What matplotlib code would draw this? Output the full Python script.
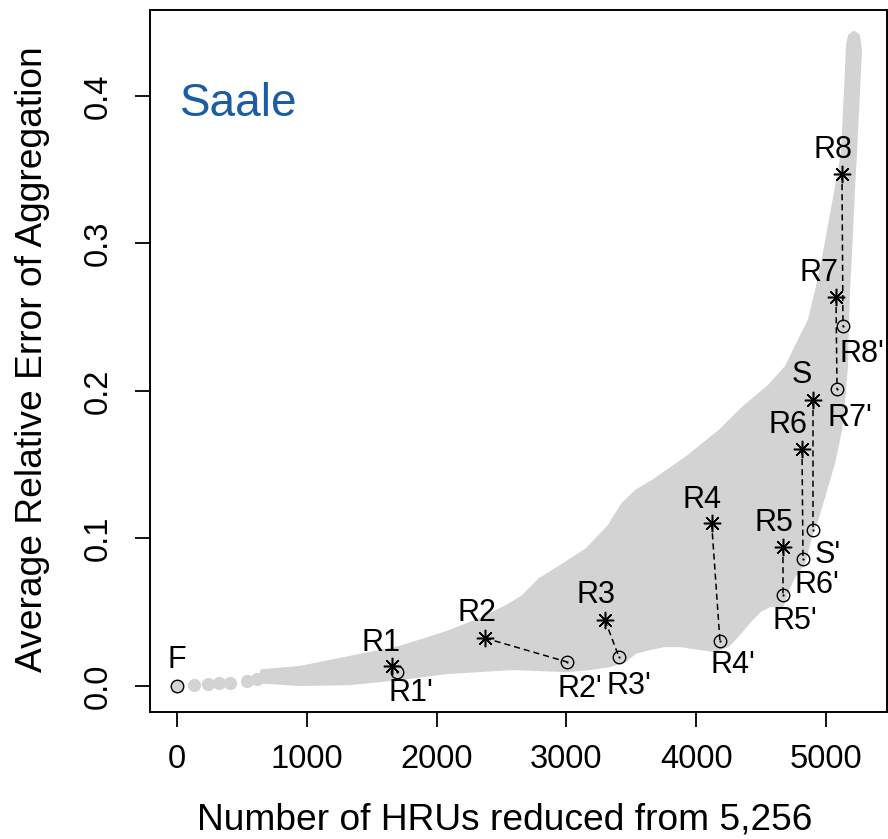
import matplotlib
matplotlib.use("Agg")
import matplotlib.pyplot as plt
from matplotlib.patches import Polygon
import numpy as np

plt.rcParams['font.family'] = ['Liberation Sans', 'DejaVu Sans']

# ---- data ----
# individual scenario dots along the low-reduction tail
tail_x = [0, 131, 239, 324, 408, 539, 616, 700]
tail_y = [0.0, 0.0007, 0.0014, 0.0020, 0.0020, 0.0034, 0.0047, 0.0060]

# outline of the dense cloud of all aggregation scenarios
# upper / left edge (from tail to the top)
cloud_upper_x = [655, 948, 1333, 1718, 2080, 2334, 2542, 2666, 2797, 3005, 3159, 3330, 3436,
                 3544, 3667, 3929, 4183, 4361, 4569, 4699, 4800, 4877, 4938, 4992, 5085,
                 5131, 5162, 5170, 5185, 5216, 5246]
cloud_upper_y = [0.0100, 0.0122, 0.0190, 0.0258, 0.0359, 0.0447, 0.0536, 0.0603, 0.0719, 0.0834,
                 0.0922, 0.1080, 0.1230, 0.1320, 0.1385, 0.1545, 0.1725, 0.1880, 0.2035,
                 0.2163, 0.2346, 0.2481, 0.2705, 0.2936, 0.3383, 0.3614, 0.4176, 0.4346,
                 0.4407, 0.4427, 0.4407]
# right / lower edge (from the top back to the tail)
cloud_lower_x = [5262, 5254, 5223, 5208, 5185, 5170, 5162, 5154, 5131, 5108, 5054, 4977,
                 4931, 4877, 4823, 4746, 4699, 4661, 4569, 4491, 4414, 4337, 4245, 4145,
                 4029, 3875, 3760, 3644, 3528, 3451, 3336, 3182, 3005, 2589, 2080, 1718,
                 1333, 948, 655]
cloud_lower_y = [0.4312, 0.4176, 0.3614, 0.3383, 0.2936, 0.2705, 0.2481, 0.2176, 0.1939,
                 0.1736, 0.1512, 0.1281, 0.1146, 0.1010, 0.0834, 0.0739, 0.0651, 0.0549,
                 0.0549, 0.0515, 0.0447, 0.0366, 0.0278, 0.0244, 0.0258, 0.0278, 0.0278,
                 0.0258, 0.0231, 0.0176, 0.0142, 0.0122, 0.0108, 0.0122, 0.0095, 0.0054,
                 0.0020, 0.0014, 0.0030]

# selected scenarios (stars) and their counterparts (circles)
names = ['R1', 'R2', 'R3', 'R4', 'R5', 'R6', 'S', 'R7', 'R8']
sel_x = [1659, 2373, 3297, 4119, 4669, 4815, 4900, 5077, 5123]
sel_y = [0.0138, 0.0325, 0.0447, 0.1103, 0.0942, 0.1607, 0.1939, 0.2637, 0.3471]
prime_names = ["R1'", "R2'", "R3'", "R4'", "R5'", "R6'", "S'", "R7'", "R8'"]
prime_x = [1697, 3005, 3405, 4183, 4669, 4823, 4900, 5085, 5131]
prime_y = [0.0097, 0.0163, 0.0197, 0.0305, 0.0617, 0.0861, 0.1058, 0.2014, 0.2441]
full_x = [0]
full_y = [0.0]

x_ticks = [0, 1000, 2000, 3000, 4000, 5000]
y_ticks = [0.0, 0.1, 0.2, 0.3, 0.4]

# ---- layout (label offsets in pixels) ----
sel_off = [(-11, 23), (-8, 25), (-9, 25), (-10, 23), (-9, 24), (-14, 24), (-11, 25), (-17, 24), (-9, 24)]
prime_off = [(14, -21), (13, -27), (10, -29), (13, -24), (12, -26), (14, -26), (15, -25), (13, -29), (19, -28)]

gray = '#d3d3d3'
W, H = 888, 839
fig = plt.figure(figsize=(W / 100, H / 100), dpi=100)
ax = fig.add_axes([150 / W, 1 - 712 / H, (887 - 150) / W, (712 - 10) / H])

# cloud
poly_x = cloud_upper_x + cloud_lower_x
poly_y = cloud_upper_y + cloud_lower_y
ax.add_patch(Polygon(np.column_stack([poly_x, poly_y]), closed=True,
                     facecolor=gray, edgecolor=gray, linewidth=3, joinstyle='round', zorder=1))
ax.plot(tail_x, tail_y, 'o', color=gray, markersize=9.5, markeredgewidth=0, zorder=1)

# dashed connectors
for sx, sy, px, py in zip(sel_x, sel_y, prime_x, prime_y):
    ax.plot([sx, px], [sy, py], color='black', linestyle=(0, (4, 2.6)), linewidth=1.1, zorder=2)

ax.plot(sel_x, sel_y, linestyle='none', marker=(8, 2, 0), markersize=12.5,
        markeredgewidth=1.1, color='black', zorder=3)
ax.plot(prime_x, prime_y, linestyle='none', marker='o', markersize=9,
        markerfacecolor='none', markeredgecolor='black', markeredgewidth=1.0, zorder=3)
ax.plot(prime_x, prime_y, linestyle='none', marker='o', markersize=1.6,
        color='black', markeredgewidth=0, zorder=3)
ax.plot(full_x, full_y, linestyle='none', marker='o', markersize=9,
        markerfacecolor=gray, markeredgecolor='black', markeredgewidth=1.0, zorder=3)

lab_fs = 22
for n, x, y, off in zip(names, sel_x, sel_y, sel_off):
    ax.annotate(n, (x, y), xytext=off, textcoords='offset pixels',
                ha='center', va='center', fontsize=lab_fs, zorder=4)
for n, x, y, off in zip(prime_names, prime_x, prime_y, prime_off):
    ax.annotate(n, (x, y), xytext=off, textcoords='offset pixels',
                ha='center', va='center', fontsize=lab_fs, zorder=4)
ax.annotate('F', (full_x[0], full_y[0]), xytext=(0, 26), textcoords='offset pixels',
            ha='center', va='center', fontsize=lab_fs, zorder=4)

ax.set_xlim(-208, 5470)
ax.set_ylim(-0.01763, 0.4583)
ax.set_xticks(x_ticks)
ax.set_xticklabels([str(t) for t in x_ticks])
ax.set_yticks(y_ticks)
ax.set_yticklabels([f'{t:.1f}' for t in y_ticks])
ax.tick_params(axis='both', direction='out', length=11, width=1.3, labelsize=23.5, pad=12)
ax.tick_params(axis='y', labelrotation=90, pad=15)
for lab in ax.get_yticklabels():
    lab.set_va('center')
for s in ax.spines.values():
    s.set_linewidth(1.4)

fig.text(33 / W, 1 - 359 / H, 'Average Relative Error of Aggregation', rotation=90,
         ha='center', va='center', fontsize=26.7)
fig.text(505 / W, 1 - 820 / H, 'Number of HRUs reduced from 5,256',
         ha='center', va='center', fontsize=26.7)
fig.text(180 / W, 1 - 104 / H, 'Saale', ha='left', va='center', fontsize=33, color='#1a5da4')

fig.savefig('out.png', dpi=100)
